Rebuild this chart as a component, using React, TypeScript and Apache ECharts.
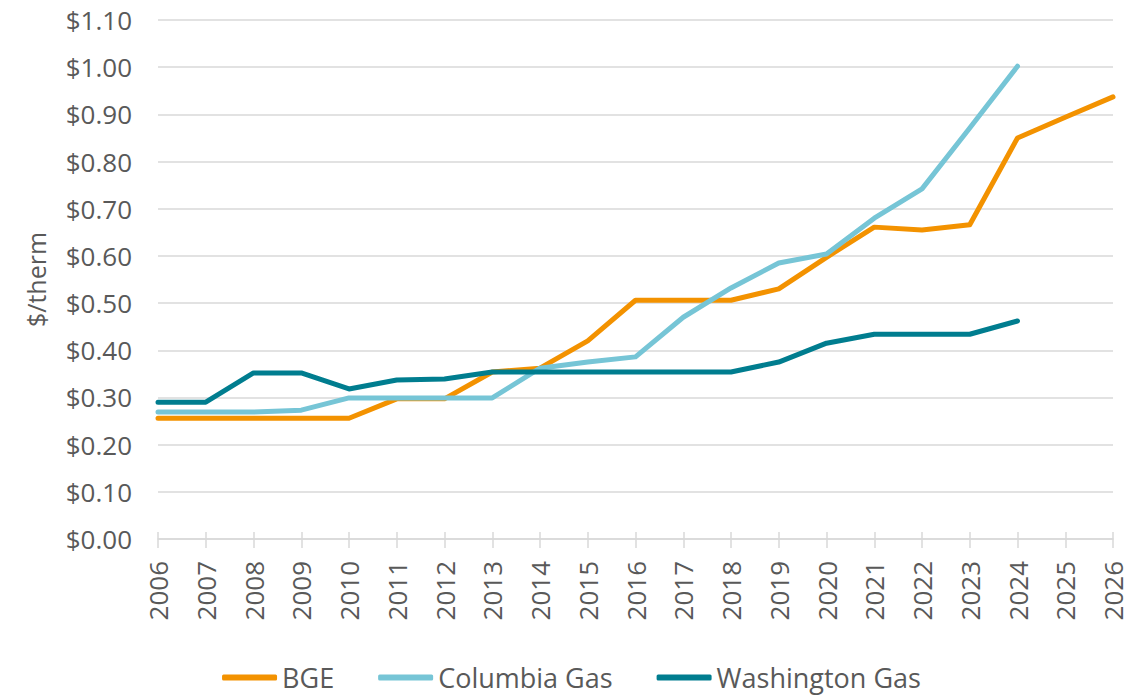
import React, { useEffect, useRef } from "react";
import * as echarts from "echarts";

const years = ["2006","2007","2008","2009","2010","2011","2012","2013","2014","2015","2016","2017","2018","2019","2020","2021","2022","2023","2024","2025","2026"];
const bge = [0.256,0.256,0.256,0.256,0.256,0.297,0.297,0.354,0.362,0.42,0.506,0.506,0.506,0.53,0.597,0.661,0.655,0.666,0.85,0.894,0.937];
const columbia = [0.269,0.269,0.269,0.273,0.299,0.299,0.299,0.299,0.362,0.375,0.386,0.47,0.532,0.585,0.604,0.68,0.742,0.871,1.002,null,null];
const washington = [0.29,0.29,0.352,0.352,0.318,0.337,0.339,0.354,0.354,0.354,0.354,0.354,0.354,0.375,0.415,0.434,0.434,0.434,0.462,null,null];

const FONT = "'Open Sans', sans-serif";
const GREY = "#595959";
const AXIS_GREY = "#d9d9d9";

export default function App() {
  const ref = useRef<HTMLDivElement>(null);
  useEffect(() => {
    if (!ref.current) return;
    const chart = echarts.init(ref.current, null, { renderer: "svg" });
    const mk = (name: string, data: (number | null)[], color: string) => ({
      name,
      type: "line",
      data,
      xAxisIndex: 0,
      symbol: "none",
      lineStyle: { width: 5, color, cap: "round", join: "round" },
      itemStyle: { color },
    });
    chart.setOption({
      animation: false,
      textStyle: { fontFamily: FONT },
      grid: { left: 158, right: 30, top: 20, bottom: 160 },
      legend: {
        top: 659,
        left: "center",
        icon: "roundRect",
        itemWidth: 55,
        itemHeight: 6,
        itemGap: 44,
        textStyle: { fontSize: 27, color: GREY, fontFamily: FONT },
        data: ["BGE", "Columbia Gas", "Washington Gas"],
      },
      xAxis: [
        {
          type: "category",
          data: years,
          boundaryGap: false,
          axisLine: { lineStyle: { color: AXIS_GREY, width: 1.5 } },
          axisTick: { show: true, length: 9, lineStyle: { color: AXIS_GREY, width: 1.5 } },
          axisLabel: { rotate: 90, fontSize: 26, color: GREY, margin: 22, interval: 0 },
        },
        {
          type: "category",
          data: years,
          position: "bottom",
          boundaryGap: false,
          axisLine: { show: false },
          axisTick: { show: true, inside: true, length: 7, lineStyle: { color: AXIS_GREY, width: 1.5 } },
          axisLabel: { show: false },
          splitLine: { show: false },
        },
      ],
      yAxis: {
        type: "value",
        min: 0,
        max: 1.1,
        interval: 0.1,
        name: "$/therm",
        nameLocation: "middle",
        nameGap: 110,
        nameRotate: 90,
        nameTextStyle: { fontSize: 25, color: GREY },
        axisLine: { show: false },
        axisTick: { show: false },
        splitLine: { lineStyle: { color: AXIS_GREY, width: 1.5 } },
        axisLabel: {
          fontSize: 26,
          color: GREY,
          margin: 26,
          formatter: (v: number) => "$" + v.toFixed(2),
        },
      },
      series: [
        mk("BGE", bge, "#F39200"),
        mk("Columbia Gas", columbia, "#76C5D6"),
        mk("Washington Gas", washington, "#007D8F"),
      ],
    });
    return () => chart.dispose();
  }, []);
  return <div ref={ref} style={{ position: "absolute", left: 0, top: 0, width: 1143, height: 699 }} />;
}
